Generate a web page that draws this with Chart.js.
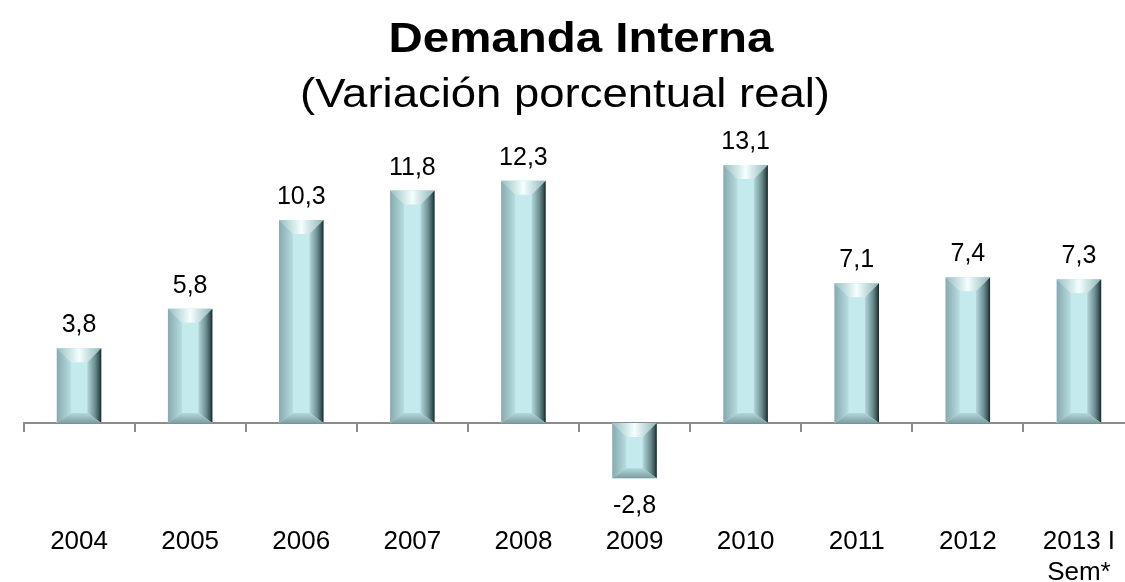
<!DOCTYPE html>
<html>
<head>
<meta charset="utf-8">
<script src="https://cdn.jsdelivr.net/npm/chart.js@4.4.1/dist/chart.umd.min.js"></script>
<style>
  body { margin: 0; background: #fff; overflow: hidden; }
  #wrap { position: absolute; left: 0; top: 0; width: 1140px; height: 582px; }
</style>
</head>
<body>
<div id="wrap"><canvas id="demanda" width="1140" height="582"></canvas></div>
<script>
// datos
const categories = ['2004', '2005', '2006', '2007', '2008', '2009', '2010', '2011', '2012', ['2013 I', 'Sem*']];
const variacion = [3.8, 5.8, 10.3, 11.8, 12.3, -2.8, 13.1, 7.1, 7.4, 7.3];
const titulo = 'Demanda Interna';
const subtitulo = '(Variación porcentual real)';

const FONT = '"Liberation Sans", Arial, sans-serif';
const ctx1 = document.getElementById('demanda');

// titulo (el original viene algo estirado en horizontal)
const tituloPlugin = {
    id: 'tituloEstirado',
    afterDraw(chart) {
        const ctx = chart.ctx;
        const lines = [
            { text: titulo, font: 'bold 43px ' + FONT, cx: 581, base: 52, w: 385 },
            { text: subtitulo, font: '40px ' + FONT, cx: 565, base: 107, w: 530 }
        ];
        ctx.save();
        ctx.fillStyle = '#000';
        ctx.textAlign = 'center';
        ctx.textBaseline = 'alphabetic';
        lines.forEach(l => {
            ctx.font = l.font;
            const sx = l.w / ctx.measureText(l.text).width;
            ctx.save();
            ctx.translate(l.cx, l.base);
            ctx.scale(sx, 1);
            ctx.fillText(l.text, 0, 0);
            ctx.restore();
        });
        ctx.restore();
    }
};

// relieve de las barras (bisel)
const bevelPlugin = {
    id: 'bevel',
    afterDatasetsDraw(chart) {
        const ctx = chart.ctx;
        chart.getDatasetMeta(0).data.forEach(bar => {
            const p = bar.getProps(['x', 'y', 'base', 'width'], true);
            const l = p.x - p.width / 2, r = p.x + p.width / 2;
            const t = Math.min(p.y, p.base), b = Math.max(p.y, p.base);
            const s = Math.min(14, (b - t) / 2.5), sb = Math.min(10, (b - t) / 3.5);
            ctx.save();
            // cara
            ctx.fillStyle = '#c4eaee';
            ctx.fillRect(l, t, r - l, b - t);
            // arriba
            let g = ctx.createLinearGradient(l, 0, r, 0);
            g.addColorStop(0, '#98bec1');
            g.addColorStop(0.5, '#f4ffff');
            g.addColorStop(1, '#8fb4b7');
            ctx.fillStyle = g;
            ctx.beginPath();
            ctx.moveTo(l, t); ctx.lineTo(r, t); ctx.lineTo(r - s, t + s); ctx.lineTo(l + s, t + s);
            ctx.closePath(); ctx.fill();
            // izquierda
            g = ctx.createLinearGradient(l, 0, l + s, 0);
            g.addColorStop(0, '#86aaad');
            g.addColorStop(1, '#b8dde0');
            ctx.fillStyle = g;
            ctx.beginPath();
            ctx.moveTo(l, t); ctx.lineTo(l + s, t + s); ctx.lineTo(l + s, b - sb); ctx.lineTo(l, b);
            ctx.closePath(); ctx.fill();
            // derecha
            g = ctx.createLinearGradient(r - s, 0, r, 0);
            g.addColorStop(0, '#b2d6d9');
            g.addColorStop(0.55, '#6d8f92');
            g.addColorStop(0.85, '#3b5254');
            g.addColorStop(1, '#172122');
            ctx.fillStyle = g;
            ctx.beginPath();
            ctx.moveTo(r, t); ctx.lineTo(r, b); ctx.lineTo(r - s, b - sb); ctx.lineTo(r - s, t + s);
            ctx.closePath(); ctx.fill();
            // abajo
            g = ctx.createLinearGradient(0, b - sb, 0, b);
            g.addColorStop(0, '#b3d8db');
            g.addColorStop(1, '#7a9ea1');
            ctx.fillStyle = g;
            ctx.beginPath();
            ctx.moveTo(l, b); ctx.lineTo(l + s, b - sb); ctx.lineTo(r - s, b - sb); ctx.lineTo(r, b);
            ctx.closePath(); ctx.fill();
            ctx.restore();
        });
    }
};

// etiquetas de valor
const valoresPlugin = {
    id: 'valores',
    afterDatasetsDraw(chart) {
        const ctx = chart.ctx;
        ctx.save();
        ctx.font = '25px ' + FONT;
        ctx.fillStyle = '#000';
        ctx.textAlign = 'center';
        ctx.textBaseline = 'alphabetic';
        chart.getDatasetMeta(0).data.forEach((bar, i) => {
            const v = variacion[i];
            const txt = v.toFixed(1).replace('.', ',');
            const y = v >= 0 ? bar.y - 16 : bar.y + 35;
            ctx.fillText(txt, bar.x, y);
        });
        ctx.restore();
    }
};

new Chart(ctx1, {
    type: 'bar',
    data: {
        labels: categories,
        datasets: [{
            data: variacion,
            backgroundColor: '#c4eaee',
            borderWidth: 0,
            categoryPercentage: 0.8,
            barPercentage: 0.5
        }]
    },
    options: {
        responsive: false,
        animation: false,
        layout: {
            padding: { left: 23.5, right: 5.5, top: 125, bottom: 0 }
        },
        plugins: {
            legend: { display: false },
            tooltip: { enabled: false }
        },
        scales: {
            y: {
                display: false,
                min: -5.025,
                max: 15.127
            },
            x: {
                position: 'bottom',
                grid: { display: false },
                border: { display: false },
                afterFit(scale) { scale.height = 60; },
                ticks: {
                    color: '#000',
                    padding: -4,
                    font: { family: FONT, size: 26 }
                }
            },
            x2: {
                type: 'category',
                axis: 'x',
                position: { y: 0 },
                offset: true,
                grid: {
                    offset: true,
                    drawOnChartArea: false,
                    tickLength: 8,
                    color: '#8c8c8c',
                    lineWidth: 2
                },
                border: { color: '#8c8c8c', width: 2 },
                ticks: { display: false }
            }
        }
    },
    plugins: [bevelPlugin, valoresPlugin, tituloPlugin]
});
</script>
</body>
</html>
